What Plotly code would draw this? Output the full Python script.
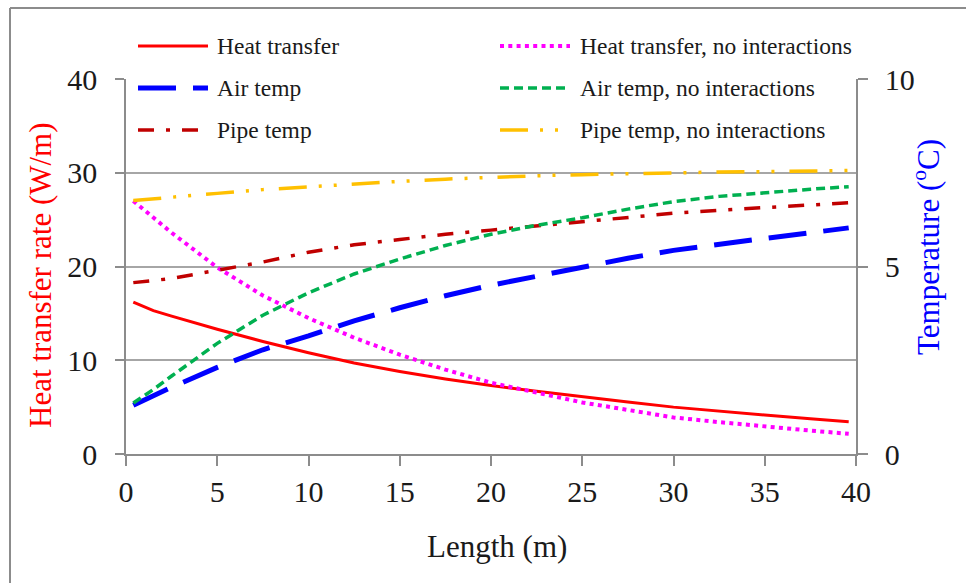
import plotly.graph_objects as go

# Pipe length positions (m)
length_m = [0.4, 1.5, 2.5, 5, 7.5, 10, 12.5, 15, 17.5, 20, 22.5, 25, 27.5, 30, 32.5, 35, 37.5, 39.6]

# Heat transfer rate (W/m), left axis
heat_transfer = [16.2, 15.3, 14.7, 13.3, 12.0, 10.8, 9.7, 8.8, 8.0, 7.3, 6.7, 6.1, 5.55, 5.0, 4.55, 4.15, 3.75, 3.45]
heat_transfer_noint = [27.0, 25.2, 23.6, 19.9, 16.9, 14.5, 12.4, 10.6, 9.0, 7.6, 6.5, 5.5, 4.7, 3.9, 3.4, 2.9, 2.5, 2.15]

# Temperatures (degC), right axis
air_temp = [1.30, 1.55, 1.78, 2.31, 2.78, 3.15, 3.55, 3.9, 4.22, 4.5, 4.75, 4.98, 5.22, 5.43, 5.6, 5.75, 5.9, 6.03]
air_temp_noint = [1.36, 1.72, 2.08, 2.95, 3.7, 4.3, 4.8, 5.2, 5.56, 5.86, 6.1, 6.3, 6.53, 6.73, 6.87, 6.97, 7.06, 7.13]
pipe_temp = [4.57, 4.62, 4.68, 4.9, 5.12, 5.38, 5.58, 5.72, 5.86, 5.97, 6.08, 6.2, 6.32, 6.42, 6.5, 6.57, 6.64, 6.70]
pipe_temp_noint = [6.76, 6.8, 6.84, 6.95, 7.05, 7.13, 7.2, 7.27, 7.33, 7.38, 7.42, 7.45, 7.48, 7.5, 7.52, 7.53, 7.55, 7.56]

x_ticks = [0, 5, 10, 15, 20, 25, 30, 35, 40]
left_ticks = [0, 10, 20, 30, 40]
right_ticks = [0, 5, 10]

FONT = "Liberation Serif"
W, H = 966, 583
PL, PR, PT, PB = 126, 856, 79, 454

# name, values, axis, colour, width, dash
series = [
    ("Heat transfer", heat_transfer, "y", "#FF0000", 3, "solid"),
    ("Air temp", air_temp, "y2", "#0000FF", 5, "38px,17px"),
    ("Pipe temp", pipe_temp, "y2", "#C00000", 3.5, "16px,12px,4px,12px"),
    ("Heat transfer, no interactions", heat_transfer_noint, "y", "#FF00FF", 4, "4px,4.3px"),
    ("Air temp, no interactions", air_temp_noint, "y2", "#00B050", 3.5, "9px,5px"),
    ("Pipe temp, no interactions", pipe_temp_noint, "y2", "#FFC000", 3.5, "28px,12px,3px,12px,3px,15px"),
]

fig = go.Figure()
for name, vals, ax, color, width, dash in series:
    fig.add_trace(go.Scatter(
        x=length_m, y=vals, yaxis=ax, mode="lines", name=name,
        line=dict(color=color, width=width, dash=dash), showlegend=False,
    ))


def px_x(p):
    return (p - PL) / (PR - PL)


def px_y(p):
    return (PB - p) / (PB - PT)


shapes = []
annotations = []

# Legend block: two columns of three rows
col_x = [(138, 208, 215), (500, 570, 578)]
row_y = [46, 88, 130]
for i, (name, vals, ax, color, width, dash) in enumerate(series):
    col, row = divmod(i, 3)
    x0, x1, xt = col_x[col]
    yy = row_y[row]
    shapes.append(dict(type="line", xref="paper", yref="paper",
                       x0=px_x(x0), x1=px_x(x1), y0=px_y(yy), y1=px_y(yy),
                       line=dict(color=color, width=width, dash=dash)))
    annotations.append(dict(text=name, xref="paper", yref="paper",
                            x=px_x(xt), y=px_y(yy), xanchor="left", yanchor="middle",
                            showarrow=False, font=dict(family=FONT, size=23.5, color="#1a1a1a")))

# Outer frame edges
shapes.append(dict(type="line", xref="paper", yref="paper", x0=px_x(10), x1=px_x(970),
                   y0=px_y(8), y1=px_y(8), line=dict(color="#8c8c8c", width=2)))
shapes.append(dict(type="line", xref="paper", yref="paper", x0=px_x(10), x1=px_x(10),
                   y0=px_y(8), y1=px_y(590), line=dict(color="#8c8c8c", width=2)))

# Axis titles
annotations.append(dict(text="Heat transfer rate (W/m)", xref="paper", yref="paper",
                        x=px_x(40), y=px_y(275), textangle=-90, showarrow=False,
                        xanchor="center", yanchor="middle",
                        font=dict(family=FONT, size=31, color="#FF0000")))
annotations.append(dict(text="Temperature (<sup>o</sup>C)", xref="paper", yref="paper",
                        x=px_x(927), y=px_y(247), textangle=-90, showarrow=False,
                        xanchor="center", yanchor="middle",
                        font=dict(family=FONT, size=31, color="#0000FF")))
annotations.append(dict(text="Length (m)", xref="paper", yref="paper",
                        x=px_x(497), y=px_y(546), showarrow=False,
                        xanchor="center", yanchor="middle",
                        font=dict(family=FONT, size=31, color="#1a1a1a")))

axis_common = dict(showline=True, linecolor="#8c8c8c", linewidth=1.5,
                   ticks="outside", tickcolor="#8c8c8c", tickwidth=1.5,
                   tickfont=dict(family=FONT, size=30, color="#1a1a1a"), zeroline=False)

fig.update_layout(
    width=W, height=H,
    margin=dict(l=PL, r=W - PR, t=PT, b=H - PB, pad=0),
    paper_bgcolor="white", plot_bgcolor="white",
    font=dict(family=FONT),
    xaxis=dict(range=[0, 40], tickvals=x_ticks, showgrid=False, ticklen=10,
               ticklabelstandoff=0, **axis_common),
    yaxis=dict(range=[0, 40], tickvals=left_ticks, showgrid=True, gridcolor="#a6a6a6",
               gridwidth=1.5, ticklen=9, ticklabelstandoff=12, **axis_common),
    yaxis2=dict(range=[0, 10], tickvals=right_ticks, overlaying="y", side="right",
                showgrid=False, ticklen=10, ticklabelstandoff=11, **axis_common),
    shapes=shapes,
    annotations=annotations,
)

fig.write_html("out.html")
